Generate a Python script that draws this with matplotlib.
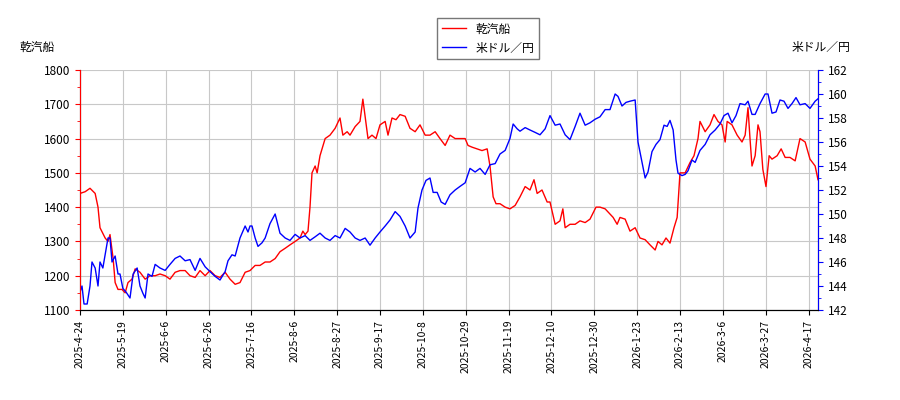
import matplotlib
matplotlib.use("Agg")
import matplotlib.pyplot as plt

plt.rcParams['font.family'] = ['Noto Sans CJK JP', 'DejaVu Sans']

tick_labels = ["2025-4-24","2025-5-19","2025-6-6","2025-6-26","2025-7-16","2025-8-6","2025-8-27",
               "2025-9-17","2025-10-8","2025-10-29","2025-11-19","2025-12-10","2025-12-30",
               "2026-1-23","2026-2-13","2026-3-6","2026-3-27","2026-4-17"]
tick_step = 15  # trading days between date labels

# trading-day positions and prices (乾汽船)
red_t = [0,1.8,3.5,5.3,6.3,7,8.8,9.8,10.5,11.6,12.3,13.3,14.7,15.8,16.8,18.2,19.3,21,22.8,24.5,26.3,28,29.8,31.5,33.3,35,36.8,38.5,40.3,42,43.8,45.5,47.3,49,50.8,52.5,54.3,56,57.8,59.5,61.3,63,64.8,66.5,68.3,70,71.8,73.5,75.3,77,78,78.8,79.8,80.5,81.2,82.3,83,84,85.8,87.5,89.3,91,92,93.5,94.5,96.3,98,99,100.8,102.2,103.6,105,106.8,107.8,109.2,110.6,112,113.8,115.5,117.3,119,120.8,122.5,124.3,126,127.8,129.5,131.3,133,134.8,135.8,137.2,139,140.7,142.5,143.5,144.6,145.6,147,148.8,150.5,152.3,154,155.8,157.5,158.9,160,161.7,163.5,164.5,166.3,168,169,169.8,171.5,173.3,175,176.8,178.5,180.6,182,183.8,185.5,186.6,188,189,190.8,192.5,194.3,196,197.8,199.5,201.3,202.3,203.7,205.1,206.5,207.9,209,210,211.8,213.5,214.9,216.3,217,218.8,220.5,221.9,223.3,224.7,225.8,226.5,228.2,230,231.7,232.8,233.8,234.5,235.2,236.3,237.3,238,239,240.1,241.2,242.2,244,245.4,246.8,248.5,250.3,252,253.8,255.5,257.3,258.3]
red_v = [1440,1445,1455,1440,1400,1340,1310,1300,1320,1250,1180,1160,1160,1150,1180,1190,1220,1210,1190,1200,1200,1205,1200,1190,1210,1215,1215,1200,1195,1215,1200,1215,1200,1195,1210,1190,1175,1180,1210,1215,1230,1230,1240,1240,1250,1270,1280,1290,1300,1310,1330,1320,1330,1400,1500,1520,1500,1550,1600,1610,1630,1660,1610,1620,1610,1635,1650,1715,1600,1610,1600,1640,1650,1610,1660,1655,1670,1665,1630,1620,1640,1610,1610,1620,1600,1580,1610,1600,1600,1600,1580,1575,1570,1565,1570,1520,1430,1410,1410,1400,1395,1405,1430,1460,1450,1480,1440,1450,1415,1415,1350,1360,1395,1340,1350,1350,1360,1355,1365,1400,1400,1395,1380,1370,1350,1370,1365,1330,1340,1310,1305,1290,1275,1300,1290,1310,1295,1340,1370,1500,1500,1530,1550,1600,1650,1620,1640,1670,1650,1640,1590,1650,1640,1610,1590,1610,1690,1600,1520,1550,1640,1620,1510,1460,1550,1540,1550,1570,1545,1545,1535,1600,1590,1540,1520,1480]

# trading-day positions and USD/JPY (米ドル／円)
blue_t = [0,0.7,1.4,2.5,3.5,4.2,5.3,6.3,7,8,9.1,9.8,10.5,11.2,12.3,13.3,14,15,16.1,17.5,18.6,20,21,22,22.8,23.8,25.2,26.3,28,29.8,31.5,33.3,35,36.8,38.5,40.3,42,43.8,45.5,47.3,49,50.8,51.8,53.2,54.3,56,57.8,58.8,59.5,60.2,61.3,62.3,63.7,64.8,66.5,68.3,70,71.8,73.5,75.3,77,78.8,80.5,82.3,84,85.8,87.5,89.3,91,92.8,94.5,96.3,98,99.8,101.5,103.3,105,106.8,108.5,110.3,112,113.8,115.5,117.3,118.3,119.7,121.1,122.5,123.6,125,126.4,127.8,129.5,131.3,133,134.8,136.5,138.3,140,141.8,143.5,145.3,147,148.8,150.5,151.6,153,154,155.8,157.5,159.3,161,162.8,164.5,166.3,168,169.8,171.5,173.3,175,176.8,178.5,180.3,182,183.8,185.5,187.3,188.3,189.7,191.1,192.5,194.3,195.3,196.7,197.8,198.8,200.2,201.6,203,204.4,205.5,206.5,207.6,208.6,209.3,210.7,211.8,212.8,214.2,215.3,217,218.8,220.5,222.3,224,225.4,226.8,228.2,229.6,231,232.8,233.8,235.2,236.3,238,239.8,240.8,242.2,243.6,245,246.4,247.8,249.2,250.6,252,253.8,255.5,257.3,258.3]
blue_v = [143.5,144,142.5,142.5,144,146,145.5,144,146,145.5,147,148,148,146,146.5,145,145,143.8,143.5,143,145,145.5,144,143.4,143,145,144.8,145.8,145.5,145.3,145.8,146.3,146.5,146.1,146.2,145.3,146.3,145.6,145.2,144.8,144.5,145.2,146.1,146.6,146.5,148,149,148.5,149,149,148,147.3,147.6,148,149.2,150,148.4,148,147.8,148.3,148,148.2,147.8,148.1,148.4,148,147.8,148.2,148,148.8,148.5,148,147.8,148,147.4,148,148.5,149,149.5,150.2,149.8,149,148,148.5,150.5,152,152.8,153,151.8,151.8,151,150.8,151.6,152,152.3,152.6,153.8,153.5,153.8,153.3,154.1,154.2,155,155.3,156.3,157.5,157.1,156.9,157.2,157,156.8,156.6,157.1,158.2,157.4,157.5,156.6,156.2,157.3,158.4,157.4,157.6,157.9,158.1,158.7,158.7,160,159.8,159,159.3,159.4,159.5,156,154.3,153,153.5,155.2,155.8,156.2,157.4,157.3,157.8,157,154.5,153.4,153.2,153.3,153.6,154.5,154.3,155.3,155.8,156.6,157,157.5,158.2,158.4,157.6,158.2,159.2,159.1,159.4,158.3,158.3,159.2,160,160,158.4,158.5,159.5,159.4,158.8,159.2,159.7,159.1,159.2,158.8,159.4,159.6]

fig = plt.figure(figsize=(9, 4), dpi=100)
ax = fig.add_axes([80/900, 90/400, 738/900, 240/400])
ax2 = ax.twinx()

l1, = ax.plot(red_t, red_v, color='red', lw=1, label='乾汽船')
l2, = ax2.plot(blue_t, blue_v, color='blue', lw=1, label='米ドル／円')

ax.set_xlim(0, 258.3)
ax.set_ylim(1100, 1800)
ax2.set_ylim(142, 162)
ax.set_yticks(range(1100, 1801, 100))
ax2.set_yticks(range(142, 163, 2))
ax.set_yticks(range(1100, 1801, 50), minor=True)
ax2.set_yticks(range(142, 163, 1), minor=True)
ax.set_xticks([i * tick_step for i in range(len(tick_labels))])
ax.set_xticklabels(tick_labels, rotation=90, fontsize=7.5)
ax.grid(True, color='#c8c8c8', lw=0.8)
ax.set_axisbelow(True)

ax.tick_params(axis='y', colors='black', labelsize=8.5)
ax.tick_params(axis='y', which='both', color='red')
ax2.tick_params(axis='y', colors='black', labelsize=8.5)
ax2.tick_params(axis='y', which='both', color='blue')
ax2.spines['left'].set_color('red')
ax2.spines['right'].set_color('blue')
ax2.spines['top'].set_visible(False)
ax.spines['top'].set_visible(False)
ax2.spines['bottom'].set_color('black')

fig.text(20/900, 1 - 47/400, '乾汽船', fontsize=8.5, va='center')
fig.text(850/900, 1 - 47/400, '米ドル／円', fontsize=8.5, va='center', ha='right')
fig.legend(handles=[l1, l2], loc='upper center', bbox_to_anchor=(488/900, 1 - 12/400),
           fontsize=8.5, frameon=True, fancybox=False, edgecolor='#555555')

fig.savefig('out.png', dpi=100)
